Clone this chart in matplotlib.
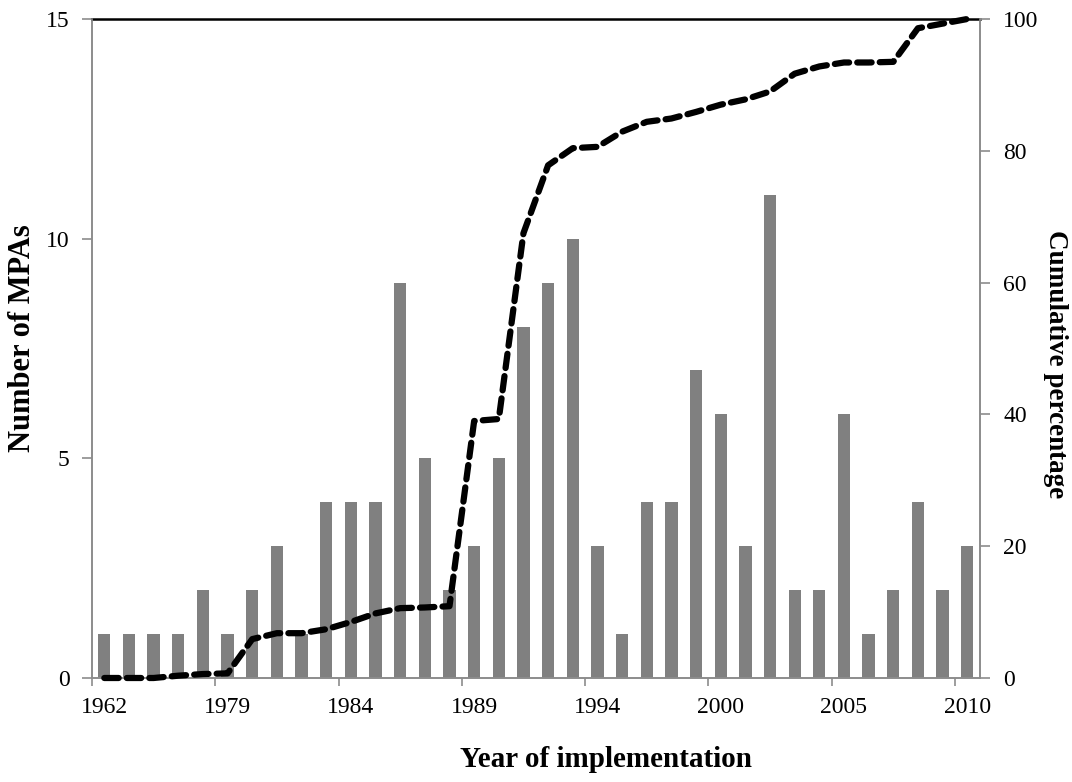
import matplotlib
matplotlib.use("Agg")
import matplotlib.pyplot as plt
import numpy as np

# Number of MPAs implemented per year (category order along the x axis)
years = ["1962", "1968", "1972", "1975", "1977", "1979", "1980", "1981", "1982",
         "1983", "1984", "1985", "1986", "1987", "1988", "1989", "1990", "1991",
         "1992", "1993", "1994", "1995", "1997", "1998", "1999", "2000", "2001",
         "2002", "2003", "2004", "2005", "2006", "2007", "2008", "2009", "2010"]
mpa_counts = [1, 1, 1, 1, 2, 1, 2, 3, 1, 4, 4, 4, 9, 5, 2, 3, 5, 8,
              9, 10, 3, 1, 4, 4, 7, 6, 3, 11, 2, 2, 6, 1, 2, 4, 2, 3]
cumulative_pct = [0.0, 0.0, 0.0, 0.35, 0.6, 0.7, 5.9, 6.8, 6.8, 7.4, 8.5, 9.8,
                  10.6, 10.7, 10.9, 39.0, 39.3, 67.5, 77.8, 80.4, 80.6, 82.9,
                  84.4, 84.9, 85.9, 87.0, 87.8, 89.0, 91.7, 92.8, 93.4, 93.4,
                  93.5, 98.6, 99.3, 100.0]

plt.rcParams["font.family"] = ["Liberation Serif", "DejaVu Serif"]

GREY = "#8c8c8c"

fig = plt.figure(figsize=(10.72, 7.82), dpi=100)
ax = fig.add_axes([0.0858, 0.133, 0.828, 0.8427])
x = np.arange(len(years))

ax.bar(x, mpa_counts, width=0.5, color="#808080", zorder=2)
ax.set_xlim(-0.5, len(years) - 0.5)
ax.set_ylim(0, 15)
ax.set_yticks([0, 5, 10, 15])
ax.axhline(15, color="black", lw=1.8, zorder=3, clip_on=False)

# labels every fifth category, tick marks on category boundaries
ax.set_xticks(x[::5])
ax.set_xticklabels([years[i] for i in x[::5]])
ax.set_xticks(np.arange(-0.5, len(years) - 0.5, 5), minor=True)
ax.tick_params(axis="x", which="major", length=0, pad=14, labelsize=17)
ax.tick_params(axis="x", which="minor", length=6, color=GREY, width=1.2)
ax.tick_params(axis="y", length=7, color=GREY, width=1.2, labelsize=17, pad=9)

for side in ["left", "bottom", "right"]:
    ax.spines[side].set_color(GREY)
    ax.spines[side].set_linewidth(1.2)
ax.spines["top"].set_visible(False)

ax2 = ax.twinx()
ax2.plot(x, cumulative_pct, color="black", lw=4.5, linestyle=(0, (2.3, 1.3)),
         dash_capstyle="round", zorder=4, clip_on=False)
ax2.set_ylim(0, 100)
ax2.set_yticks(np.arange(0, 101, 20))
ax2.tick_params(axis="y", length=7, color=GREY, width=1.2, labelsize=17, pad=10)
for side in ["left", "bottom", "right"]:
    ax2.spines[side].set_color(GREY)
    ax2.spines[side].set_linewidth(1.2)
ax2.spines["top"].set_visible(False)

ax.set_xlabel("Year of implementation", fontsize=21, fontweight="bold")
ax.xaxis.set_label_coords(0.579, -0.103)
ax.set_ylabel("Number of MPAs", fontsize=22, fontweight="bold")
ax.yaxis.set_label_coords(-0.062, 0.515)
ax2.set_ylabel("Cumulative percentage", fontsize=19.5, fontweight="bold",
               rotation=270, va="center")
ax2.yaxis.set_label_coords(1.086, 0.477)

fig.savefig("out.png", dpi=100)
